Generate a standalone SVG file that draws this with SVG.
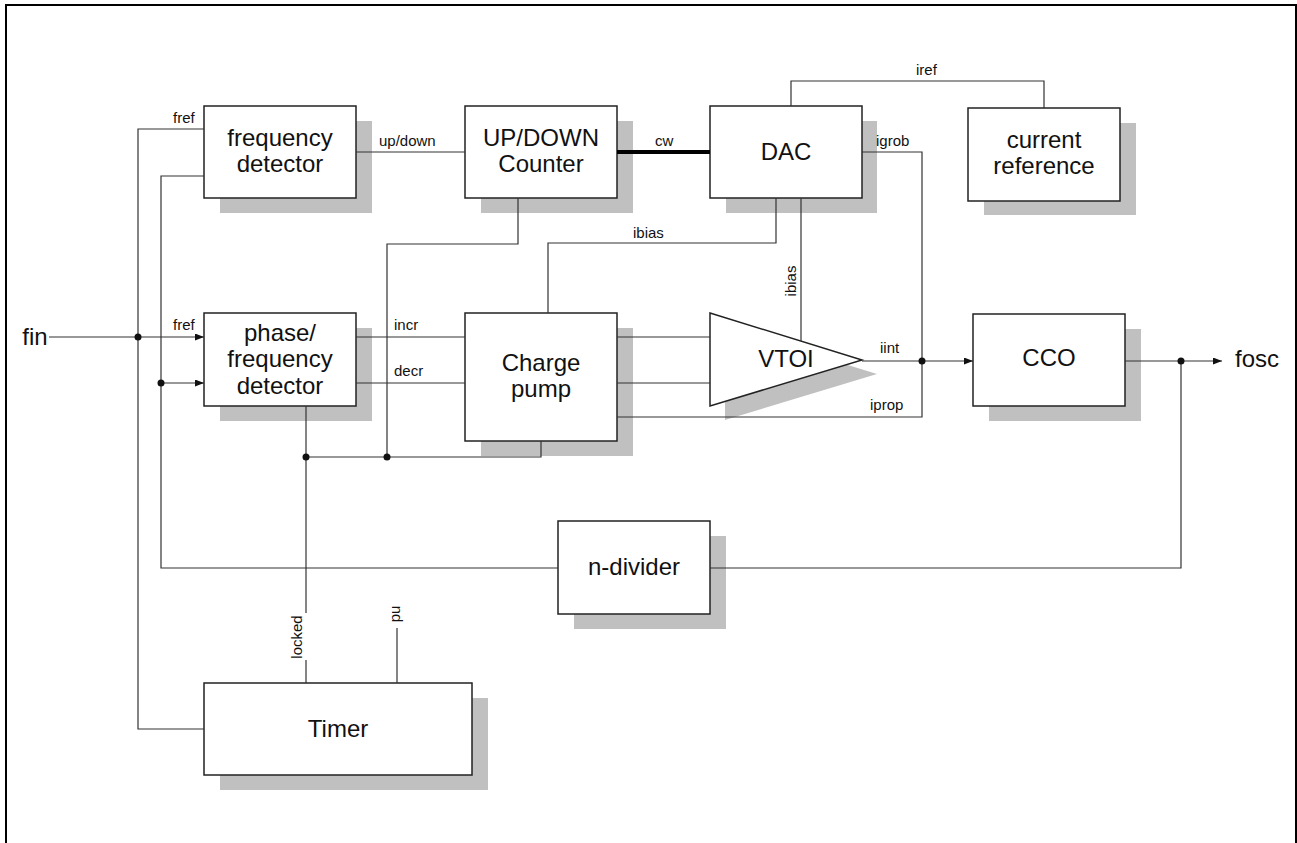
<svg xmlns="http://www.w3.org/2000/svg" width="1297" height="843" viewBox="0 0 1297 843">
<style>
.box{fill:#fff;stroke:#222;stroke-width:1.5}
.sh{fill:#c0c0c0;stroke:none}
.w{fill:none;stroke:#333;stroke-width:1.2}
.big{font-family:"Liberation Sans",Arial,sans-serif;font-size:24px;fill:#111;text-anchor:middle}
.lbl{font-family:"Liberation Sans",Arial,sans-serif;font-size:15px;fill:#111}
.dot{fill:#111}
</style>
<defs>
<marker id="arr" markerWidth="9" markerHeight="7" refX="9" refY="3.5" orient="auto" markerUnits="userSpaceOnUse">
<path d="M0,0 L9,3.5 L0,7 Z" fill="#111"/>
</marker>
</defs>
<rect width="1297" height="843" fill="#fff"/>
<path d="M6 845 V5 H1296 V845" fill="none" stroke="#000" stroke-width="2"/>

<g id="freq-detector">
<rect class="sh" x="220" y="121" width="152" height="92"/>
<rect class="box" x="204" y="106" width="152" height="92"/>
<text class="big" x="280" y="146">frequency</text>
<text class="big" x="280" y="172">detector</text>
</g>
<g id="updown-counter">
<rect class="sh" x="481" y="121" width="152" height="92"/>
<rect class="box" x="465" y="106" width="152" height="92"/>
<text class="big" x="541" y="146">UP/DOWN</text>
<text class="big" x="541" y="172">Counter</text>
</g>
<g id="dac">
<rect class="sh" x="726" y="121" width="151" height="92"/>
<rect class="box" x="710" y="106" width="152" height="92"/>
<text class="big" x="786" y="160">DAC</text>
</g>
<g id="current-reference">
<rect class="sh" x="984" y="123" width="152" height="92"/>
<rect class="box" x="968" y="108" width="152" height="93"/>
<text class="big" x="1044" y="148">current</text>
<text class="big" x="1044" y="174">reference</text>
</g>
<g id="pfd">
<rect class="sh" x="220" y="328" width="152" height="93"/>
<rect class="box" x="204" y="313" width="152" height="93"/>
<text class="big" x="280" y="341">phase/</text>
<text class="big" x="280" y="367">frequency</text>
<text class="big" x="280" y="394">detector</text>
</g>
<g id="charge-pump">
<rect class="sh" x="481" y="328" width="152" height="128"/>
<rect class="box" x="465" y="313" width="152" height="128"/>
<text class="big" x="541" y="371">Charge</text>
<text class="big" x="541" y="397">pump</text>
</g>
<g id="vtoi">
<polygon class="sh" points="725,327 877,374 725,420"/>
<polygon class="box" points="710,313 862,360 710,406"/>
<text class="big" x="786" y="367">VTOI</text>
</g>
<g id="cco">
<rect class="sh" x="989" y="329" width="152" height="92"/>
<rect class="box" x="973" y="314" width="152" height="92"/>
<text class="big" x="1049" y="366">CCO</text>
</g>
<g id="n-divider">
<rect class="sh" x="574" y="536" width="152" height="93"/>
<rect class="box" x="558" y="521" width="152" height="93"/>
<text class="big" x="634" y="575">n-divider</text>
</g>
<g id="timer">
<rect class="sh" x="220" y="698" width="268" height="92"/>
<rect class="box" x="204" y="683" width="268" height="92"/>
<text class="big" x="338" y="737">Timer</text>
</g>

<g id="connectors">
<path class="w" d="M49 337 H204" marker-end="url(#arr)"/>
<path class="w" d="M204 129 H138 V729 H204"/>
<path class="w" d="M204 176 H161 V568 H558"/>
<path class="w" d="M161 383 H204" marker-end="url(#arr)"/>
<path class="w" d="M356 152 H465"/>
<path d="M617 152 H710" fill="none" stroke="#000" stroke-width="4"/>
<path class="w" d="M791 106 V81 H1044 V108"/>
<path class="w" d="M862 152 H922 V417 H617"/>
<path class="w" d="M776 198 V243 H548 V313"/>
<path class="w" d="M801 198 V341"/>
<path class="w" d="M518 198 V244 H387 V457"/>
<path class="w" d="M356 337 H465"/>
<path class="w" d="M356 383 H465"/>
<path class="w" d="M617 337 H710"/>
<path class="w" d="M617 383 H710"/>
<path class="w" d="M862 361 H973" marker-end="url(#arr)"/>
<path class="w" d="M1125 361 H1222" marker-end="url(#arr)"/>
<path class="w" d="M1181 361 V568 H710"/>
<path class="w" d="M306 406 V613"/>
<path class="w" d="M306 660 V683"/>
<path class="w" d="M306 457 H541 V441"/>
<path class="w" d="M397 628 V683"/>
<circle class="dot" cx="138" cy="337" r="3.5"/>
<circle class="dot" cx="161" cy="383" r="3.5"/>
<circle class="dot" cx="306" cy="457" r="3.5"/>
<circle class="dot" cx="387" cy="457" r="3.5"/>
<circle class="dot" cx="922" cy="361" r="3.5"/>
<circle class="dot" cx="1181" cy="361" r="3.5"/>
<text class="lbl" x="173" y="123">fref</text>
<text class="lbl" x="379" y="146">up/down</text>
<text class="lbl" x="655" y="146">cw</text>
<text class="lbl" x="916" y="75">iref</text>
<text class="lbl" x="876" y="146">igrob</text>
<text class="lbl" x="633" y="238">ibias</text>
<text class="lbl" text-anchor="middle" transform="translate(796 281) rotate(-90)">ibias</text>
<text class="lbl" x="173" y="330">fref</text>
<text class="lbl" x="394" y="330">incr</text>
<text class="lbl" x="394" y="376">decr</text>
<text class="lbl" x="880" y="353">iint</text>
<text class="lbl" x="870" y="410">iprop</text>
<text class="lbl" text-anchor="middle" transform="translate(302 637) rotate(-90)">locked</text>
<text class="lbl" text-anchor="middle" transform="translate(400 614) rotate(-90)">pu</text>
<text class="big" x="35" y="345">fin</text>
<text class="big" x="1235" y="367" style="text-anchor:start">fosc</text>
</g>
</svg>
